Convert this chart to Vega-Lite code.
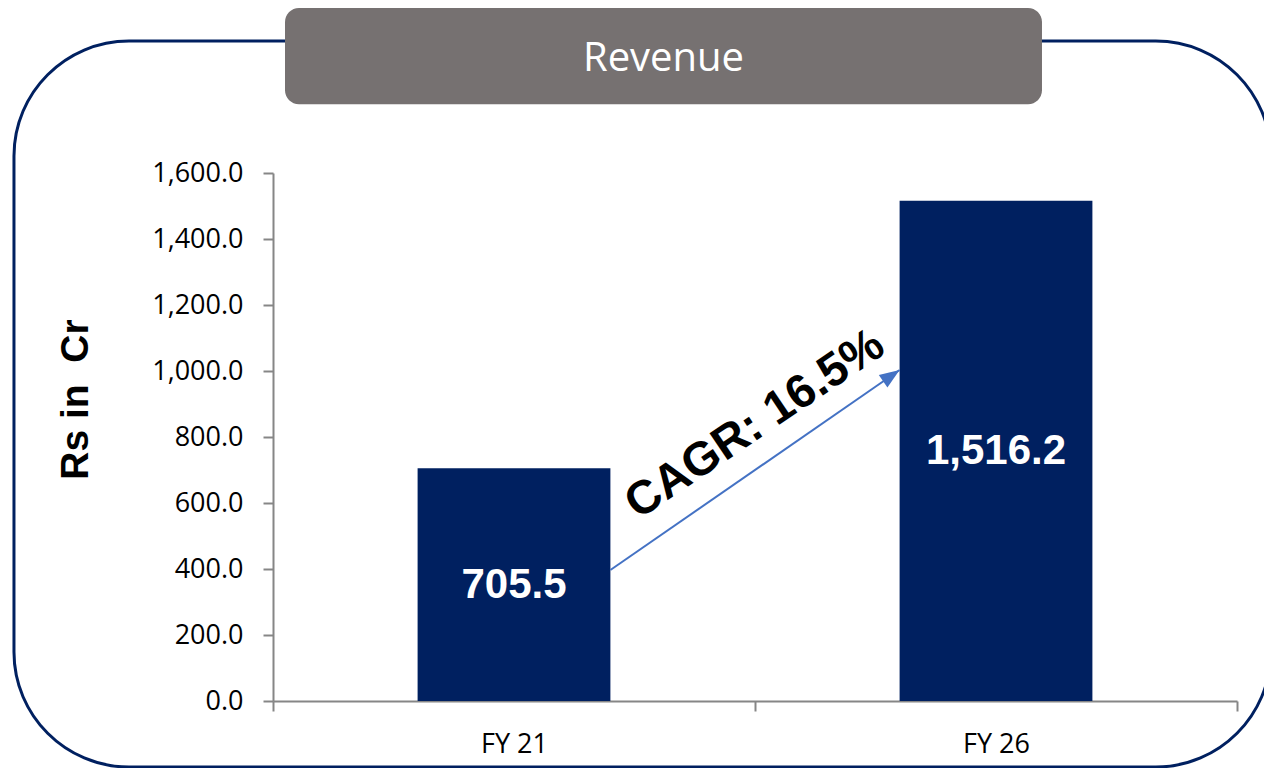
{
  "$schema": "https://vega.github.io/schema/vega-lite/v6.json",
  "width": 964,
  "height": 528,
  "autosize": {"type": "none"},
  "padding": {"left": 273, "top": 173, "right": 27, "bottom": 67},
  "background": "white",
  "config": {"view": {"stroke": null}},
  "layer": [
    {
      "data": {"values": [{}]},
      "layer": [
        {
          "mark": {"type": "rect", "filled": false, "stroke": "#002060", "strokeWidth": 3, "cornerRadius": 115},
          "encoding": {
            "x": {"datum": -26.87, "type": "quantitative", "scale": {"domain": [0, 100], "nice": false, "zero": false}, "axis": null},
            "x2": {"datum": 103.5},
            "y": {"datum": 125.0, "type": "quantitative", "scale": {"domain": [0, 100], "nice": false, "zero": false}, "axis": null},
            "y2": {"datum": -12.5}
          }
        },
        {
          "mark": {"type": "rect", "fill": "#767171", "cornerRadius": 14},
          "encoding": {
            "x": {"datum": 1.245, "type": "quantitative"},
            "x2": {"datum": 79.77},
            "y": {"datum": 131.25, "type": "quantitative"},
            "y2": {"datum": 113.0}
          }
        },
        {
          "mark": {"type": "text", "font": "Open Sans", "fontSize": 40, "color": "#ffffff", "align": "center", "baseline": "middle"},
          "encoding": {
            "x": {"datum": 40.51, "type": "quantitative"},
            "y": {"datum": 121.6, "type": "quantitative"},
            "text": {"value": "Revenue"}
          }
        }
      ]
    },
    {
      "layer": [
        {
          "data": {"values": [
            {"year": "FY 21", "revenue": 705.5},
            {"year": "FY 26", "revenue": 1516.2}
          ]},
          "mark": {"type": "bar", "color": "#002060", "width": {"band": 0.4}},
          "encoding": {
            "x": {
              "field": "year", "type": "nominal", "sort": ["FY 21", "FY 26"],
              "scale": {"domain": ["FY 21", "FY 26"], "paddingInner": 0, "paddingOuter": 0},
              "axis": {
                "orient": "bottom",
                "labelAngle": 0, "tickBand": "extent", "title": null,
                "domainColor": "#868686", "domainWidth": 2,
                "tickColor": "#868686", "tickWidth": 2, "tickSize": 10,
                "labelFont": "Open Sans", "labelFontSize": 27, "labelColor": "#000000", "labelPadding": 20
              }
            },
            "y": {
              "field": "revenue", "type": "quantitative",
              "scale": {"domain": [0, 1600], "nice": false},
              "axis": {
                "orient": "left",
                "values": [0, 200, 400, 600, 800, 1000, 1200, 1400, 1600],
                "format": ",.1f", "grid": false,
                "domainColor": "#868686", "domainWidth": 2,
                "tickColor": "#868686", "tickWidth": 2, "tickSize": 10,
                "labelFont": "Open Sans", "labelFontSize": 27, "labelColor": "#000000", "labelPadding": 20,
                "title": "Rs in \u00a0Cr", "titleFont": "Liberation Sans", "titleFontWeight": "bold", "titleFontSize": 39, "titleColor": "#000000",
                "titleAngle": 270, "titleX": -198, "titleY": 226, "titleAlign": "center", "titleBaseline": "middle"
              }
            }
          }
        },
        {
          "data": {"values": [
            {"year": "FY 21", "revenue": 705.5},
            {"year": "FY 26", "revenue": 1516.2}
          ]},
          "transform": [{"calculate": "datum.revenue / 2", "as": "label_pos"}],
          "mark": {"type": "text", "color": "#ffffff", "font": "Liberation Sans", "fontWeight": "bold", "fontSize": 42, "align": "center", "baseline": "middle"},
          "encoding": {
            "x": {"field": "year", "type": "nominal"},
            "y": {"field": "label_pos", "type": "quantitative"},
            "text": {"field": "revenue", "type": "quantitative", "format": ",.1f"}
          }
        },
        {
          "data": {"values": [{"from": "FY 21", "to": "FY 26", "label": "CAGR: 16.5%"}]},
          "mark": {"type": "rule", "color": "#4472C4", "strokeWidth": 2},
          "encoding": {
            "x": {"field": "from", "type": "nominal", "bandPosition": 0.7},
            "x2": {"field": "to", "bandPosition": 0.3},
            "y": {"datum": 397, "type": "quantitative"},
            "y2": {"datum": 1003}
          }
        },
        {
          "data": {"values": [{"from": "FY 21", "to": "FY 26", "label": "CAGR: 16.5%"}]},
          "mark": {"type": "point", "shape": "M0,0L-0.38,1L0.38,1Z", "filled": true, "color": "#4472C4", "opacity": 1, "size": 1600, "angle": 55.5},
          "encoding": {
            "x": {"field": "to", "type": "nominal", "bandPosition": 0.3},
            "y": {"datum": 1003, "type": "quantitative"}
          }
        },
        {
          "data": {"values": [{"from": "FY 21", "to": "FY 26", "label": "CAGR: 16.5%"}]},
          "mark": {"type": "text", "font": "Liberation Sans", "fontWeight": "bold", "fontSize": 47, "color": "#000000", "align": "center", "baseline": "middle", "angle": 326},
          "encoding": {
            "x": {"field": "to", "type": "nominal", "bandPosition": 0},
            "y": {"datum": 838, "type": "quantitative"},
            "text": {"field": "label", "type": "nominal"}
          }
        }
      ]
    }
  ],
  "resolve": {"scale": {"x": "independent", "y": "independent"}}
}
